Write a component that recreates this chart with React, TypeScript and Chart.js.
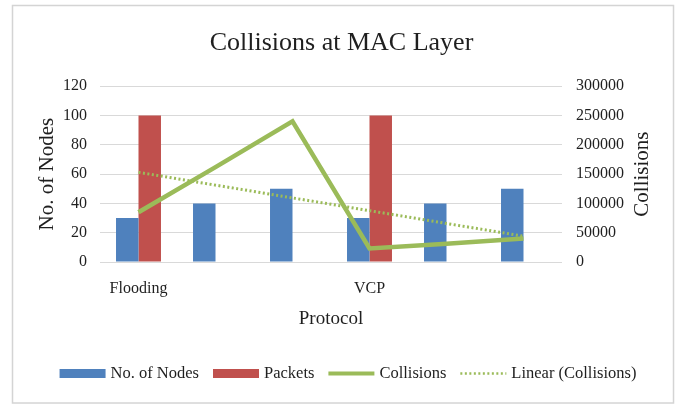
import React, { useEffect, useRef } from 'react';
import { Chart, registerables } from 'chart.js';

Chart.register(...registerables);

const chartTitle = 'Collisions at MAC Layer';
const categories = ['Flooding', '', '', 'VCP', '', ''];
const nodes = [30, 40, 50, 30, 40, 50];
const packets = [100, null, null, 100, null, null];
const collisions = [85000, 162000, 240000, 23000, 31000, 40000];
const trendCollisions = [153000, null, null, null, null, 44000];
const leftMax = 120;
const leftStep = 20;
const rightMax = 300000;
const rightStep = 50000;
const xTitle = 'Protocol';
const yTitle = 'No. of Nodes';
const y1Title = 'Collisions';
const legendLabels = ['No. of Nodes', 'Packets', 'Collisions', 'Linear (Collisions)'];

const FONT = "'Liberation Serif', 'Times New Roman', serif";
const TEXT = '#1f1f1f';
const BLUE = '#4f81bd';
const RED = '#c0504d';
const GREEN = '#9bbb59';
const GRID = '#d9d9d9';

const decorPlugin = {
  id: 'decor',
  afterDraw(chart: any) {
    const ctx = chart.ctx as CanvasRenderingContext2D;
    ctx.save();
    // outer border
    ctx.strokeStyle = '#d4d4d4';
    ctx.lineWidth = 1.5;
    ctx.strokeRect(12.5, 5.5, 661, 397.5);

    // right axis title (reads bottom to top)
    const ca = chart.chartArea;
    ctx.fillStyle = TEXT;
    ctx.font = `21px ${FONT}`;
    ctx.textAlign = 'center';
    ctx.textBaseline = 'middle';
    ctx.save();
    ctx.translate(642, (ca.top + ca.bottom) / 2);
    ctx.rotate(-Math.PI / 2);
    ctx.fillText(y1Title, 0, 0);
    ctx.restore();

    // legend
    const kinds = ['box', 'box', 'line', 'dots'];
    const colors = [BLUE, RED, GREEN, GREEN];
    const boxW = 46;
    const gapText = 5;
    const gapItem = 14;
    ctx.font = `16.5px ${FONT}`;
    const widths = legendLabels.map((l) => boxW + gapText + ctx.measureText(l).width);
    const total = widths.reduce((a, b) => a + b, 0) + gapItem * (widths.length - 1);
    let x = 348 - total / 2;
    const yc = 373.5;
    legendLabels.forEach((label, i) => {
      const k = kinds[i];
      ctx.save();
      if (k === 'box') {
        ctx.fillStyle = colors[i];
        ctx.fillRect(x, yc - 4.5, boxW, 9);
      } else if (k === 'line') {
        ctx.strokeStyle = colors[i];
        ctx.lineWidth = 4;
        ctx.beginPath();
        ctx.moveTo(x, yc);
        ctx.lineTo(x + boxW, yc);
        ctx.stroke();
      } else {
        ctx.strokeStyle = colors[i];
        ctx.lineWidth = 2.5;
        ctx.setLineDash([2, 2.5]);
        ctx.beginPath();
        ctx.moveTo(x, yc);
        ctx.lineTo(x + boxW, yc);
        ctx.stroke();
      }
      ctx.restore();
      ctx.fillStyle = TEXT;
      ctx.textAlign = 'left';
      ctx.textBaseline = 'middle';
      ctx.fillText(label, x + boxW + gapText, yc);
      x += widths[i] + gapItem;
    });
    ctx.restore();
  },
};

export default function App() {
  const ref = useRef<HTMLCanvasElement>(null);
  useEffect(() => {
    document.body.style.margin = '0';
    const canvas = ref.current;
    if (!canvas) return;
    const chart = new Chart(canvas, {
      type: 'bar',
      data: {
        labels: categories,
        datasets: [
          {
            type: 'line',
            label: legendLabels[2],
            data: collisions,
            yAxisID: 'y1',
            borderColor: GREEN,
            backgroundColor: GREEN,
            borderWidth: 4.5,
            pointRadius: 0,
            tension: 0,
            order: 0,
          } as any,
          {
            type: 'line',
            label: legendLabels[3],
            data: trendCollisions,
            yAxisID: 'y1',
            borderColor: GREEN,
            backgroundColor: GREEN,
            borderWidth: 3,
            borderDash: [2, 2.5],
            pointRadius: 0,
            spanGaps: true,
            order: 1,
          } as any,
          {
            label: legendLabels[0],
            data: nodes,
            yAxisID: 'y',
            backgroundColor: BLUE,
            categoryPercentage: 0.584,
            barPercentage: 1,
            order: 2,
          },
          {
            label: legendLabels[1],
            data: packets,
            yAxisID: 'y',
            backgroundColor: RED,
            categoryPercentage: 0.584,
            barPercentage: 1,
            order: 2,
          },
        ],
      },
      options: {
        responsive: false,
        animation: false,
        devicePixelRatio: 1,
        layout: { padding: { left: 0, right: 0, top: 0, bottom: 75 } },
        plugins: {
          legend: { display: false },
          tooltip: { enabled: false },
          title: {
            display: true,
            text: chartTitle,
            color: TEXT,
            font: { family: FONT, size: 26, weight: 'normal' },
            padding: { top: 28, bottom: 27 },
          },
        },
        scales: {
          x: {
            grid: { display: false },
            border: { display: false },
            ticks: {
              color: TEXT,
              font: { family: FONT, size: 16 },
              padding: 9,
              autoSkip: false,
              maxRotation: 0,
            },
            title: {
              display: true,
              text: xTitle,
              color: TEXT,
              font: { family: FONT, size: 19 },
              padding: { top: 0, bottom: 2 },
            },
            afterFit: (s: any) => {
              s.height = 70;
            },
          },
          y: {
            position: 'left',
            min: 0,
            max: leftMax,
            ticks: {
              stepSize: leftStep,
              color: TEXT,
              font: { family: FONT, size: 16 },
              padding: 13,
            },
            grid: { color: GRID, lineWidth: 1, drawTicks: false },
            border: { display: false },
            title: {
              display: true,
              text: yTitle,
              color: TEXT,
              font: { family: FONT, size: 21 },
              padding: { top: 35, bottom: 0 },
            },
            afterFit: (s: any) => {
              s.width = 100;
            },
          },
          y1: {
            position: 'right',
            min: 0,
            max: rightMax,
            ticks: {
              stepSize: rightStep,
              color: TEXT,
              font: { family: FONT, size: 16 },
              padding: 14,
              callback: (v: any) => String(v),
            },
            grid: { display: false, drawTicks: false },
            border: { display: false },
            afterFit: (s: any) => {
              s.width = 121;
            },
          },
        },
      },
      plugins: [decorPlugin],
    });
    return () => chart.destroy();
  }, []);
  return (
    <div style={{ width: 683, height: 407, position: 'relative', background: '#fff' }}>
      <canvas ref={ref} width={683} height={407} style={{ display: 'block' }} />
    </div>
  );
}
